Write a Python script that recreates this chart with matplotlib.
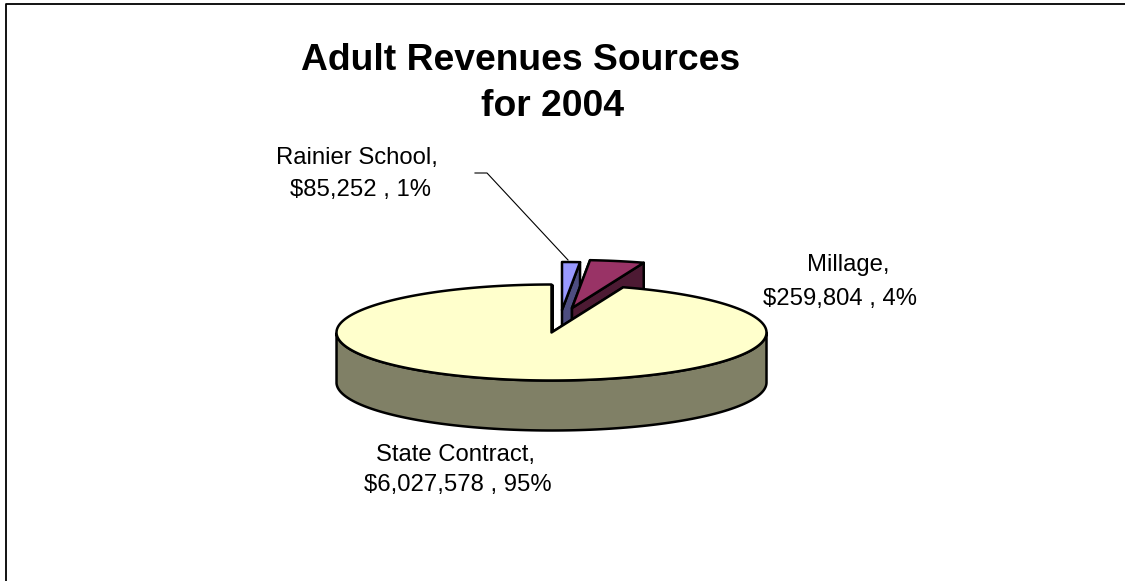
import numpy as np
import matplotlib
matplotlib.use("Agg")
import matplotlib.pyplot as plt

plt.rcParams['font.family'] = ['Liberation Sans', 'DejaVu Sans']

sources = ["Rainier School", "Millage", "State Contract"]
revenues = [85252, 259804, 6027578]
percents = [1, 4, 95]
top_colors = ["#9999FF", "#993366", "#FFFFCC"]
side_colors = ["#4D4D80", "#4D1A33", "#808066"]

# pie geometry in pixels, the chart was flattened 3d in the original
CX, CY = 551.5, 332.5
RX, RY = 215, 48
DEPTH = 50
offsets = [(10.5, -22.5), (20.5, -24.5), (0, 0)]


def rim(theta, dx, dy):
    # theta is clockwise from 12 o'clock
    return CX + dx + RX * np.sin(theta), CY + dy - RY * np.cos(theta)


fig = plt.figure(figsize=(11.25, 5.81), dpi=100)
ax = fig.add_axes([0, 0, 1, 1])
ax.set_xlim(0, 1125)
ax.set_ylim(581, 0)
ax.axis("off")

# frame only shows on the top and left
ax.plot([5.5, 5.5, 1125], [581, 3.5, 3.5], color="black", lw=1.3)

angles = np.cumsum([0] + revenues) / sum(revenues) * 2 * np.pi
line = dict(edgecolor="black", linewidth=1.8, joinstyle="round")

for i in range(3):
    dx, dy = offsets[i]
    t = np.linspace(angles[i], angles[i + 1], max(4, int((angles[i + 1] - angles[i]) * 40)))
    x, y = rim(t, dx, dy)
    ax_, ay_ = CX + dx, CY + dy
    # outer wall, only the front half can be seen
    front = t[(t > np.pi / 2) & (t < 3 * np.pi / 2)]
    if len(front):
        fx, fy = rim(front, dx, dy)
        ax.fill(np.r_[fx, fx[::-1]], np.r_[fy, fy[::-1] + DEPTH],
                facecolor=side_colors[i], zorder=i * 3 + 1, **line)
    # cut faces
    for end in (angles[i], angles[i + 1]):
        ex, ey = rim(end, dx, dy)
        ax.fill([ax_, ex, ex, ax_], [ay_, ey, ey + DEPTH, ay_ + DEPTH],
                facecolor=side_colors[i], zorder=i * 3, **line)
    ax.fill(np.r_[ax_, x], np.r_[ay_, y], facecolor=top_colors[i], zorder=i * 3 + 2, **line)

# leader line for the small slice
ax.plot([475, 487, 568], [173, 173, 260], color="black", lw=0.8, zorder=1)

ax.text(520.5, 60, "Adult Revenues Sources", ha="center", va="center",
        fontsize=26.8, fontweight="bold")
ax.text(553, 107, "for 2004", ha="center", va="center",
        fontsize=26.8, fontweight="bold")


def label(i, x1, y1, x2, y2):
    ax.text(x1, y1, f"{sources[i]},", ha="center", va="center", fontsize=17.2)
    ax.text(x2, y2, f"${revenues[i]:,} , {percents[i]}%", ha="center", va="center", fontsize=17.2)


label(0, 357, 158, 360, 190)
label(1, 848.5, 265, 840, 299)
label(2, 456, 455, 458, 485)

fig.savefig("out.png", dpi=100)
